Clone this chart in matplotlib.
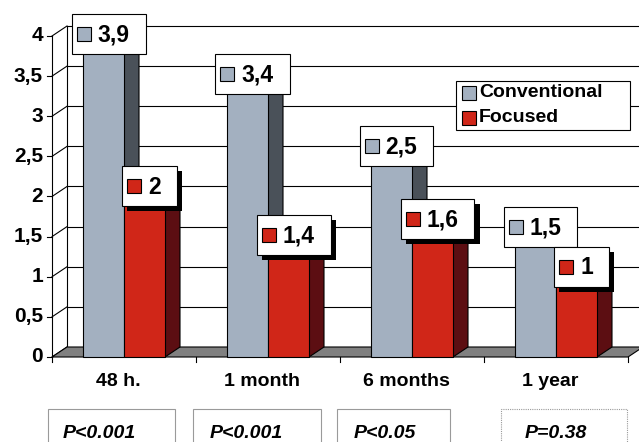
import matplotlib
matplotlib.use("Agg")
import matplotlib.pyplot as plt
from matplotlib.patches import Polygon, Rectangle

# ---- data -------------------------------------------------------------
categories = ["48 h.", "1 month", "6 months", "1 year"]
series_names = ["Conventional", "Focused"]
conventional = [3.9, 3.4, 2.5, 1.5]
focused = [2.0, 1.4, 1.6, 1.0]
p_values = ["P<0.001", "P<0.001", "P<0.05", "P=0.38"]
y_ticks = [0, 0.5, 1, 1.5, 2, 2.5, 3, 3.5, 4]

# ---- styling ----------------------------------------------------------
plt.rcParams["font.family"] = ["Liberation Sans", "DejaVu Sans"]
FRONT = ["#A3B0C0", "#D02618"]
SIDE = ["#4A5159", "#5C0E12"]
TOP = ["#C4CDD8", "#E0574B"]
FLOOR = "#808080"

W_PX, H_PX, DPI = 639, 442, 100
PX_X = 144.0      # pixels per category step
PX_Y = 80.25      # pixels per value unit
ORIGIN_X = 124.0  # pixel x of first category centre
ORIGIN_Y = 357.0  # pixel y (from top) of value 0

X_LEFT = -ORIGIN_X / PX_X
X_RIGHT = (W_PX - ORIGIN_X) / PX_X
Y_BOT = -(H_PX - ORIGIN_Y) / PX_Y
Y_TOP = ORIGIN_Y / PX_Y


def px(n):
    """horizontal pixels -> data units"""
    return n / PX_X


def py(n):
    """vertical pixels -> data units"""
    return n / PX_Y


def fx(p):
    """figure pixel x -> data x"""
    return X_LEFT + p / PX_X


def fy(p):
    """figure pixel y (from top) -> data y"""
    return Y_TOP - p / PX_Y


DX, DY = px(15), py(10)   # depth offset of the 3-D look
BW = px(41)               # bar width
LW = 0.8

fig = plt.figure(figsize=(W_PX / DPI, H_PX / DPI), dpi=DPI)
ax = fig.add_axes([0, 0, 1, 1])
ax.set_xlim(X_LEFT, X_RIGHT)
ax.set_ylim(Y_BOT, Y_TOP)
ax.axis("off")

n = len(categories)
x0, x1 = -0.5, n - 0.5
ymax = max(y_ticks)

# ---- walls and gridlines ---------------------------------------------
ax.plot([x0, x0], [0, ymax], color="black", lw=LW, zorder=2)
ax.plot([x0 + DX, x0 + DX], [DY, ymax + DY], color="black", lw=LW, zorder=2)
for v in y_ticks:
    ax.plot([x0, x0 + DX], [v, v + DY], color="black", lw=LW, zorder=2)
    ax.plot([x0 - px(5), x0], [v, v], color="black", lw=LW, zorder=2)
    if v > 0:
        ax.plot([x0 + DX, X_RIGHT + 1], [v + DY, v + DY],
                color="black", lw=LW, zorder=2)
    ax.text(fx(43), v, f"{v:g}".replace(".", ","), ha="right", va="center",
            fontsize=15, fontweight="bold", zorder=3)

# floor
ax.add_patch(Polygon([(x0, 0), (x1, 0), (x1 + DX, DY), (x0 + DX, DY)],
                     closed=True, facecolor=FLOOR, edgecolor="black",
                     lw=LW, zorder=3))
for b in range(n + 1):
    ax.plot([x0 + b, x0 + b], [0, -py(5)], color="black", lw=LW, zorder=3)


# ---- 3-D bars ----------------------------------------------------------
def bar3d(xl, v, s, z):
    xr = xl + BW
    ax.add_patch(Polygon([(xr, 0), (xr + DX, DY), (xr + DX, v + DY), (xr, v)],
                         closed=True, facecolor=SIDE[s], edgecolor="black",
                         lw=LW, zorder=z))
    ax.add_patch(Polygon([(xl, v), (xr, v), (xr + DX, v + DY), (xl + DX, v + DY)],
                         closed=True, facecolor=TOP[s], edgecolor="black",
                         lw=LW, zorder=z))
    ax.add_patch(Rectangle((xl, 0), BW, v, facecolor=FRONT[s],
                           edgecolor="black", lw=LW, zorder=z + 0.1))


series = [conventional, focused]
for i in range(n):
    bar3d(i - BW, conventional[i], 0, 4 + i * 0.5)
    bar3d(i, focused[i], 1, 4.2 + i * 0.5)
    ax.text(i - px(6), fy(381), categories[i], ha="center", va="center",
            fontsize=14, fontweight="bold", zorder=3)

# ---- value labels -----------------------------------------------------
renderer = fig.canvas.get_renderer()
BOX_H = py(40)
for s, vals in enumerate(series):
    for i, v in enumerate(vals):
        xc = (i - BW if s == 0 else i) + BW / 2 + px(5)
        yc = v + py(10)
        label = f"{v:g}".replace(".", ",")
        t = ax.text(0, 0, label, fontsize=16.5, fontweight="bold",
                    va="center", ha="left", zorder=12)
        tw = t.get_window_extent(renderer).width
        bw = px(26 + tw + 16)
        bl = xc - bw / 2
        bb = yc - BOX_H / 2
        t.set_position((bl + px(26), yc - py(1)))
        if s == 1:
            ax.add_patch(Rectangle((bl + px(5), bb - py(5)), bw, BOX_H,
                                   facecolor="black", edgecolor="none",
                                   zorder=10))
        ax.add_patch(Rectangle((bl, bb), bw, BOX_H, facecolor="white",
                               edgecolor="black", lw=LW, zorder=11))
        ax.add_patch(Rectangle((bl + px(5), yc - py(7)), px(14), py(14),
                               facecolor=FRONT[s], edgecolor="black",
                               lw=LW, zorder=12))

# ---- legend -----------------------------------------------------------
ax.add_patch(Rectangle((fx(456), fy(130)), px(174), py(49),
                       facecolor="white", edgecolor="black", lw=LW, zorder=13))
for s, name in enumerate(series_names):
    yc = fy(93 + 25 * s)
    ax.add_patch(Rectangle((fx(462), yc - py(7)), px(14), py(14),
                           facecolor=FRONT[s], edgecolor="black", lw=LW,
                           zorder=14))
    ax.text(fx(479), yc, name, ha="left", va="center", fontsize=14,
            fontweight="bold", zorder=14)

# ---- p-value boxes ----------------------------------------------------
p_boxes = [(48, 127, 63), (193, 128, 210), (337, 113, 354), (501, 126, 525)]
for k, (left, width, tx) in enumerate(p_boxes):
    style = (0, (1, 1)) if k == len(p_boxes) - 1 else "solid"
    ax.add_patch(Rectangle((fx(left), fy(460)), px(width), py(51),
                           facecolor="white", edgecolor="#9A9A9A", lw=LW,
                           linestyle=style, zorder=3))
    ax.text(fx(tx), fy(438), p_values[k], ha="left", va="baseline",
            fontsize=14, fontweight="bold", fontstyle="italic", zorder=4)

fig.savefig("out.png", dpi=DPI)
